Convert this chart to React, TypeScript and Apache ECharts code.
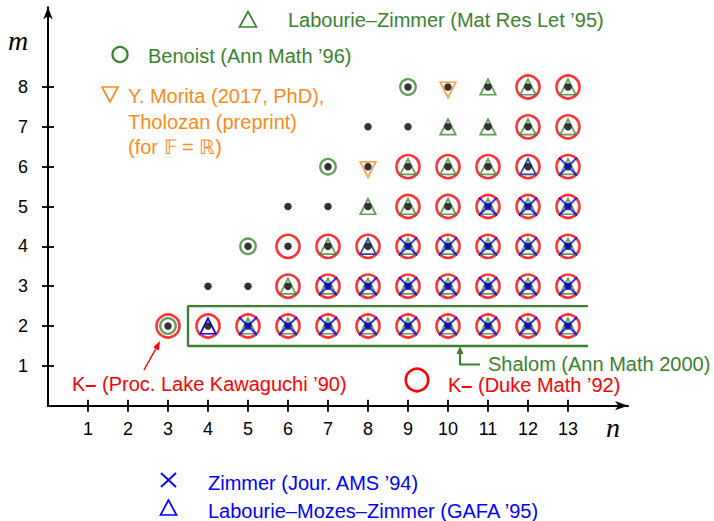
import React, { useEffect, useRef } from "react";
import * as echarts from "echarts";

// ---- data ----
const nTicks = [1, 2, 3, 4, 5, 6, 7, 8, 9, 10, 11, 12, 13];
const mTicks = [1, 2, 3, 4, 5, 6, 7, 8];

// rows: [m, list of n]
const dotRows: [number, number[]][] = [
  [2, [3, 4, 5, 6, 7, 8, 9, 10, 11, 12, 13]],
  [3, [4, 5, 6, 7, 8, 9, 10, 11, 12, 13]],
  [4, [5, 6, 7, 8, 9, 10, 11, 12, 13]],
  [5, [6, 7, 8, 9, 10, 11, 12, 13]],
  [6, [7, 8, 9, 10, 11, 12, 13]],
  [7, [8, 9, 10, 11, 12, 13]],
  [8, [9, 10, 11, 12, 13]],
];
const kobayashiRows: [number, number[]][] = [
  [2, [3, 4, 5, 6, 7, 8, 9, 10, 11, 12, 13]],
  [3, [6, 7, 8, 9, 10, 11, 12, 13]],
  [4, [6, 7, 8, 9, 10, 11, 12, 13]],
  [5, [9, 10, 11, 12, 13]],
  [6, [9, 10, 11, 12, 13]],
  [7, [12, 13]],
  [8, [12, 13]],
];
const lzRows: [number, number[]][] = [
  [2, [5, 6, 7, 8, 9, 10, 11, 12, 13]],
  [3, [6, 7, 8, 9, 10, 11, 12, 13]],
  [4, [7, 8, 9, 10, 11, 12, 13]],
  [5, [8, 9, 10, 11, 12, 13]],
  [6, [9, 10, 11, 12, 13]],
  [7, [10, 11, 12, 13]],
  [8, [11, 12, 13]],
];
const zimmerRows: [number, number[]][] = [
  [2, [5, 6, 7, 8, 9, 10, 11, 12, 13]],
  [3, [7, 8, 9, 10, 11, 12, 13]],
  [4, [9, 10, 11, 12, 13]],
  [5, [11, 12, 13]],
  [6, [13]],
];
const lmzPoints: number[][] = [[4, 2], [8, 4], [12, 6]];
const benoistPoints: number[][] = [[3, 2], [5, 4], [7, 6], [9, 8]];
const moritaPoints: number[][] = [[8, 6], [10, 8]];
const shalomBox: number[][] = [[13.5, 2.5], [3.5, 2.5], [3.5, 1.5], [13.5, 1.5]];

// ---- styles ----
const RED = "#ff0000";
const GREEN = "#3c8032";
const ORANGE = "#ff8a1c";
const BLUE = "#0000ff";
const SANS = "'Liberation Sans', Arial, Helvetica, sans-serif";
const SERIF = "'Liberation Serif', 'Times New Roman', serif";
const CROSS = "path://M0,0L10,10M10,0L0,10";
const FS = 20;

const toPoints = (rows: [number, number[]][]) =>
  rows.flatMap(([m, ns]) => ns.map((n) => [n, m]));

export default function App() {
  const ref = useRef<HTMLDivElement>(null);
  useEffect(() => {
    if (!ref.current) return;
    const chart = echarts.init(ref.current, undefined, { renderer: "svg" });
    const lzPts = toPoints(lzRows);
    const inLz = (p: number[]) => lzPts.some((q) => q[0] === p[0] && q[1] === p[1]);
    const clear = "rgba(0,0,0,0)";
    const scatterBase = { type: "scatter", silent: true, emphasis: { disabled: true } };

    const axisLabel = { fontSize: 18, color: "#000", fontFamily: SANS };
    const xCommon = { type: "value", min: 0, max: 14.5, interval: 1, position: "bottom", splitLine: { show: false } };
    const yCommon = { type: "value", min: 0, max: 10, interval: 1, position: "left", splitLine: { show: false } };

    const textStyle = (color: string) => ({ fill: color, fontSize: FS, fontFamily: SANS, verticalAlign: "middle", align: "left" });
    const kRich = {
      k: { fill: RED, fontSize: FS, fontFamily: SANS, lineHeight: 14 },
      d: { fill: RED, fontSize: FS, fontFamily: SANS, fontWeight: "bold", lineHeight: 14 },
    };

    chart.setOption({
      animation: false,
      grid: { left: 48, right: 86, top: 7.3, bottom: 115.3, containLabel: false },
      xAxis: [
        {
          ...xCommon,
          axisLine: { show: true, onZero: false, symbol: ["none", "arrow"], symbolSize: [7, 13], lineStyle: { color: "#000", width: 2 } },
          axisTick: { show: true, length: 6, customValues: nTicks, lineStyle: { color: "#000", width: 1.8 } },
          axisLabel: { ...axisLabel, margin: 14, customValues: nTicks },
        },
        {
          ...xCommon,
          axisLine: { show: false, onZero: false },
          axisTick: { show: true, inside: true, length: 6, customValues: nTicks, lineStyle: { color: "#000", width: 1.8 } },
          axisLabel: { show: false },
        },
      ],
      yAxis: [
        {
          ...yCommon,
          axisLine: { show: true, onZero: false, symbol: ["none", "arrow"], symbolSize: [7, 12], lineStyle: { color: "#000", width: 2 } },
          axisTick: { show: true, length: 6, customValues: mTicks, lineStyle: { color: "#000", width: 1.8 } },
          axisLabel: { ...axisLabel, margin: 20, customValues: mTicks },
        },
        {
          ...yCommon,
          axisLine: { show: false, onZero: false },
          axisTick: { show: true, inside: true, length: 6, customValues: mTicks, lineStyle: { color: "#000", width: 1.8 } },
          axisLabel: { show: false },
        },
      ],
      series: [
        {
          type: "line",
          silent: true,
          data: shalomBox,
          symbol: "none",
          lineStyle: { color: GREEN, width: 2.4 },
          z: 1,
        },
        {
          ...scatterBase,
          data: toPoints(kobayashiRows),
          symbol: "circle",
          symbolSize: 23,
          itemStyle: { color: clear, borderColor: RED, borderWidth: 2.6 },
          z: 2,
        },
        {
          ...scatterBase,
          data: benoistPoints,
          symbol: "circle",
          symbolSize: 15.5,
          itemStyle: { color: clear, borderColor: GREEN, borderWidth: 2.3 },
          z: 3,
        },
        {
          ...scatterBase,
          data: lzPts,
          symbol: "triangle",
          symbolSize: [15.5, 15.5],
          itemStyle: { color: clear, borderColor: GREEN, borderWidth: 1.7 },
          z: 4,
        },
        {
          ...scatterBase,
          data: lmzPoints.map((p) => ({ value: p, itemStyle: { opacity: inLz(p) ? 0.5 : 1 } })),
          symbol: "triangle",
          symbolSize: [15.5, 15.5],
          itemStyle: { color: clear, borderColor: BLUE, borderWidth: 1.7 },
          z: 5,
        },
        {
          ...scatterBase,
          data: moritaPoints,
          symbol: "triangle",
          symbolRotate: 180,
          symbolOffset: [0, 3],
          symbolSize: [15.5, 15.5],
          itemStyle: { color: clear, borderColor: ORANGE, borderWidth: 1.7 },
          z: 5,
        },
        {
          ...scatterBase,
          data: toPoints(dotRows),
          symbol: "circle",
          symbolSize: 7.5,
          itemStyle: { color: "#000" },
          z: 6,
        },
        {
          ...scatterBase,
          data: toPoints(zimmerRows),
          symbol: CROSS,
          symbolSize: 18,
          itemStyle: { color: clear, borderColor: BLUE, borderWidth: 2 },
          z: 7,
        },
      ],
      graphic: [
        // axis names
        { type: "text", x: 18, y: 40, style: { text: "m", fill: "#000", fontSize: 28, fontStyle: "italic", fontFamily: SERIF, align: "center", verticalAlign: "middle" } },
        { type: "text", x: 613, y: 427, style: { text: "n", fill: "#000", fontSize: 28, fontStyle: "italic", fontFamily: SERIF, align: "center", verticalAlign: "middle" } },
        // top legends
        { type: "polygon", shape: { points: [[248, 11.5], [239.5, 27], [256.5, 27]] }, style: { fill: "none", stroke: GREEN, lineWidth: 1.7 } },
        { type: "text", x: 288, y: 20, style: { ...textStyle(GREEN), text: "Labourie–Zimmer (Mat Res Let ’95)" } },
        { type: "circle", shape: { cx: 120, cy: 54.5, r: 7.5 }, style: { fill: "none", stroke: GREEN, lineWidth: 2.3 } },
        { type: "text", x: 148, y: 56, style: { ...textStyle(GREEN), text: "Benoist (Ann Math ’96)" } },
        { type: "polygon", shape: { points: [[102, 87], [118, 87], [110, 102]] }, style: { fill: "none", stroke: ORANGE, lineWidth: 1.7 } },
        { type: "text", x: 128, y: 96, style: { ...textStyle(ORANGE), text: "Y. Morita (2017, PhD)," } },
        { type: "text", x: 128, y: 121.5, style: { ...textStyle(ORANGE), text: "Tholozan (preprint)" } },
        { type: "text", x: 128, y: 147, style: { ...textStyle(ORANGE), text: "(for 𝔽 = ℝ)" } },
        // Kobayashi annotations
        { type: "line", shape: { x1: 144, y1: 370, x2: 156, y2: 348.5 }, style: { stroke: RED, lineWidth: 1.5 } },
        { type: "polygon", shape: { points: [[160, 341], [158.8, 350.4], [153.3, 347.3]] }, style: { fill: RED } },
        { type: "text", x: 72, y: 384, style: { text: "{k|K}{d|–}{k| (Proc. Lake Kawaguchi ’90)}", verticalAlign: "middle", align: "left", rich: kRich } },
        { type: "circle", shape: { cx: 417, cy: 380, r: 11.2 }, style: { fill: "none", stroke: RED, lineWidth: 2.6 } },
        { type: "text", x: 448, y: 385, style: { text: "{k|K}{d|–}{k| (Duke Math ’92)}", verticalAlign: "middle", align: "left", rich: kRich } },
        // Shalom annotation
        { type: "polyline", shape: { points: [[480, 364.5], [460, 364.5], [460, 353]] }, style: { stroke: GREEN, lineWidth: 2, fill: "none" } },
        { type: "polygon", shape: { points: [[460, 346], [456.5, 354], [463.5, 354]] }, style: { fill: GREEN } },
        { type: "text", x: 488, y: 364, style: { ...textStyle(GREEN), lineHeight: 14, text: "Shalom (Ann Math 2000)" } },
        // bottom legends
        { type: "line", shape: { x1: 161, y1: 473, x2: 176, y2: 487 }, style: { stroke: BLUE, lineWidth: 1.8 } },
        { type: "line", shape: { x1: 176, y1: 473, x2: 161, y2: 487 }, style: { stroke: BLUE, lineWidth: 1.8 } },
        { type: "text", x: 208, y: 483, style: { ...textStyle(BLUE), text: "Zimmer (Jour. AMS ’94)" } },
        { type: "polygon", shape: { points: [[168.5, 500], [160.5, 515], [176.5, 515]] }, style: { fill: "none", stroke: BLUE, lineWidth: 1.7 } },
        { type: "text", x: 208, y: 510.5, style: { ...textStyle(BLUE), text: "Labourie–Mozes–Zimmer (GAFA ’95)" } },
      ],
    });
    return () => chart.dispose();
  }, []);
  return <div ref={ref} style={{ position: "fixed", left: 0, top: 0, width: 714, height: 521, background: "#fff" }} />;
}
